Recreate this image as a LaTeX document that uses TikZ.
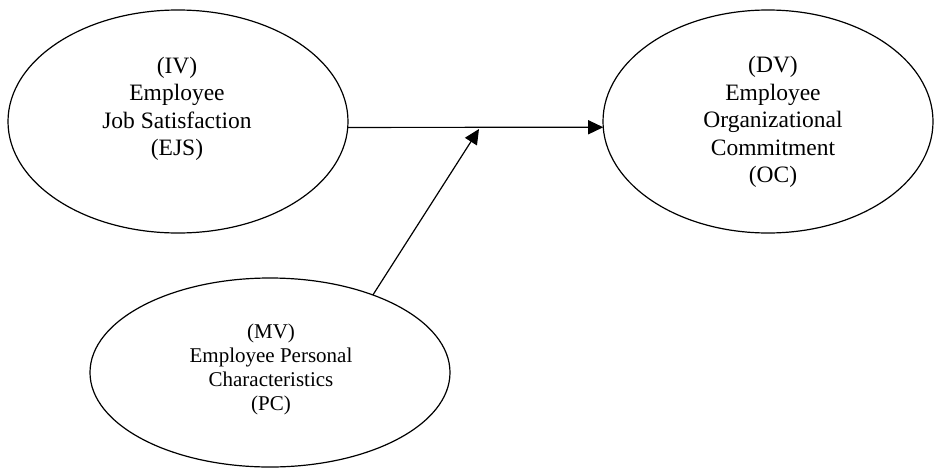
\documentclass[tikz,border=0pt]{standalone}
\usepackage{fontspec}
\setmainfont{Liberation Serif}
\usetikzlibrary{shapes.geometric,arrows.meta}
\tikzset{
  oval/.style={draw=black, line width=1.2pt, ellipse, inner sep=0pt, outer sep=0pt},
  bigtxt/.style={align=center, font=\fontsize{23.5}{27.5}\selectfont, inner sep=0pt},
  smalltxt/.style={align=center, font=\fontsize{21}{24}\selectfont, inner sep=0pt},
  conn/.style={line width=1.2pt, -{Triangle[length=15pt,width=14pt]}}
}
\begin{document}
\begin{tikzpicture}[x=1pt,y=-1pt]
\useasboundingbox (0,0) rectangle (934,469);
\node[oval, minimum width=340pt, minimum height=223pt] (iv) at (178,121.5) {};
\node[oval, minimum width=330pt, minimum height=223pt] (dv) at (768,121.5) {};
\node[oval, minimum width=360pt, minimum height=189pt] (mv) at (270,372.5) {};
\node[bigtxt] (ivt) at (177,109) {(IV)\\Employee\\Job Satisfaction\\(EJS)};
\node[bigtxt] (dvt) at (773,122) {(DV)\\Employee\\Organizational\\Commitment\\(OC)};
\node[smalltxt] (mvt) at (271,369) {(MV)\\Employee Personal\\Characteristics\\(PC)};
\coordinate (m) at (479,129);
\draw[conn] (iv.-2.5) -- (dv.182.7);
\draw[conn] (mv.37) -- (m);
\end{tikzpicture}
\end{document}
